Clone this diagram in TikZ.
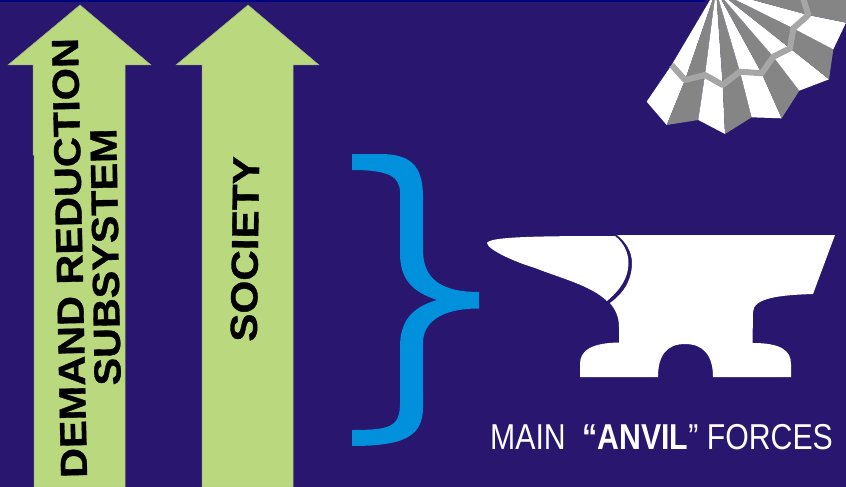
\documentclass[tikz,border=0pt]{standalone}
\usepackage{fontspec}
\setmainfont{Liberation Sans}
\newfontfamily\heavyfont[BoldFeatures={FakeBold=0.8}]{Liberation Sans}
\definecolor{bgc}{HTML}{29166F}
\definecolor{topbar}{HTML}{000080}
\definecolor{arrowc}{HTML}{BAD97F}
\definecolor{bracec}{HTML}{0090DC}
\definecolor{fang}{HTML}{858585}
\definecolor{fanb}{HTML}{A6A6A6}
\tikzset{
  uparrow/.style={fill=arrowc,draw=arrowc!60!gray,line width=.5pt},
  vlabel/.style={anchor=center,transform shape,font=\heavyfont\bfseries\fontsize{37.7}{37.7}\selectfont,text=black,inner sep=0pt},
  fanw/.style={fill=white},
  fand/.style={fill=fang}
}
\begin{document}
\begin{tikzpicture}[x=1pt,y=-1pt]
\useasboundingbox (0,0) rectangle (846,487);
\fill[bgc] (0,0) rectangle (846,487);
\fill[topbar] (0,0) rectangle (705,2);
% arrows
\path[uparrow] (80,5) -- (151,65) -- (125,65) -- (125,487) -- (34,487) -- (34,155) -- (33,155) -- (33,65) -- (8,65) -- cycle;
\path[uparrow] (248,5) -- (319,65) -- (293,65) -- (293,487) -- (202,487) -- (202,65) -- (176,65) -- cycle;
\node[vlabel,rotate=91.2,xscale=1.1] (demand) at (69.5,258) {DEMAND REDUCTION};
\node[vlabel,rotate=91,xscale=1.095] (subsys) at (105.5,257) {SUBSYSTEM};
\node[vlabel,rotate=89.2,xscale=1.12] (society) at (245,249) {SOCIETY};
% brace
\fill[bracec] (352,154) -- (380,154) .. controls (410,154) and (423,165) .. (423,197)
 -- (423,250) .. controls (423,278) and (440,292) .. (479,292) -- (479,308.5)
 .. controls (440,308.5) and (423,323) .. (423,343) -- (423,407)
 .. controls (423,436) and (405,446) .. (352,446) -- (352,430)
 .. controls (390,430) and (400,427) .. (400,403) -- (400,347)
 .. controls (400,320) and (413,307) .. (437,300)
 .. controls (413,292) and (400,280) .. (400,253) -- (400,193)
 .. controls (400,177) and (390,170) .. (352,170) -- cycle;
% anvil
\fill[white] (617,235) -- (835,235) -- (813,294)
 .. controls (780,295) and (753,298) .. (753,312)
 -- (752.5,343) .. controls (780,343) and (791,350) .. (791,364)
 -- (791,377) -- (713,377) .. controls (713,355) and (703,344) .. (685,344)
 .. controls (667,344) and (658,355) .. (658,377) -- (580,377) -- (580,364)
 .. controls (580,350) and (592,343) .. (619,342.5) -- (619,327)
 .. controls (619,315) and (614,308) .. (610,303)
 .. controls (628,290) and (632,275) .. (632,263)
 .. controls (632,252) and (626,242) .. (617,235) -- cycle;
\fill[white] (615,236) .. controls (624,243) and (628.5,253) .. (628.5,263)
 .. controls (628.5,278) and (620,290) .. (607,301)
 .. controls (590,285) and (560,278) .. (535,268)
 .. controls (515,262) and (488,250) .. (487,243)
 .. controls (490,237) and (530,236) .. (615,236) -- cycle;
% fan
\begin{scope}[shift={(630,0)},x=.3333pt,y=-.3333pt]
\coordinate (A) at (258,-30);
\coordinate (b0) at (125,195);\coordinate (b1) at (165,240);\coordinate (b2) at (225,225);
\coordinate (b3) at (278,255);\coordinate (b4) at (330,215);\coordinate (b5) at (395,220);
\coordinate (b6) at (430,170);\coordinate (b7) at (480,145);\coordinate (b8) at (490,85);
\coordinate (b9) at (535,45);\coordinate (b10) at (518,-10);
\coordinate (o0) at (50,305);\coordinate (o1) at (110,375);\coordinate (o2) at (205,360);
\coordinate (o3) at (285,402);\coordinate (o4) at (365,352);\coordinate (o5) at (455,355);
\coordinate (o6) at (508,272);\coordinate (o7) at (597,238);\coordinate (o8) at (610,148);
\coordinate (o9) at (648,68);\coordinate (o10) at (648,-10);
\clip (0,0) rectangle (648,420);
\foreach \i/\j/\st in {0/1/fanw,1/2/fand,2/3/fanw,3/4/fand,4/5/fanw,5/6/fand,6/7/fanw,7/8/fand,8/9/fanw,9/10/fand}{
  \fill[\st] (A) -- (b\i) -- (b\j) -- cycle;
  \fill[\st] (b\i) -- (o\i) -- (o\j) -- (b\j) -- cycle;
}
\draw[fanb,line width=6pt,line join=round] (b0) -- (b1) -- (b2) -- (b3) -- (b4) -- (b5) -- (b6) -- (b7) -- (b8) -- (b9) -- (b10);
\end{scope}
% caption
\node[anchor=base west,inner sep=0pt,text=white,font=\fontsize{36}{36}\selectfont,xscale=.84] (caption) at (490,449) {MAIN\ \ \textbf{“ANVIL}” FORCES};
\end{tikzpicture}
\end{document}
